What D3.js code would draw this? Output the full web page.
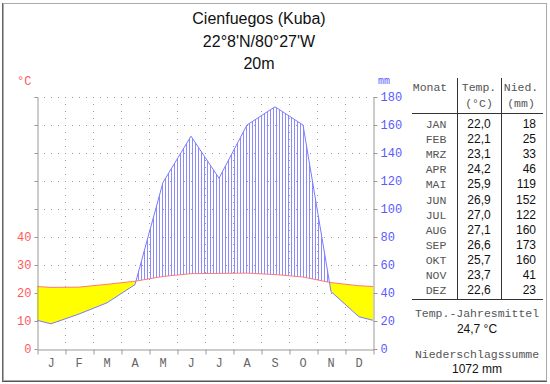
<!DOCTYPE html>
<html>
<head>
<meta charset="utf-8">
<script src="https://cdn.jsdelivr.net/npm/d3@7"></script>
<style>
  body { margin: 0; background: #fff; }
  svg { display: block; }
  .mono { font-family: "Liberation Mono", "Courier New", monospace; }
  .sans { font-family: "Liberation Sans", Arial, sans-serif; }
</style>
</head>
<body>
<svg id="chart" width="550" height="384"></svg>
<script>
// climate data, Cienfuegos
const months = ['J', 'F', 'M', 'A', 'M', 'J', 'J', 'A', 'S', 'O', 'N', 'D'];
const monthNames = ['JAN', 'FEB', 'MRZ', 'APR', 'MAI', 'JUN', 'JUL', 'AUG', 'SEP', 'OKT', 'NOV', 'DEZ'];
const temp = [22.0, 22.1, 23.1, 24.2, 25.9, 26.9, 27.0, 27.1, 26.6, 25.7, 23.7, 22.6];
const precip = [18, 25, 33, 46, 119, 152, 122, 160, 173, 160, 41, 23];
const tempTicks = [0, 10, 20, 30, 40, 50, 60, 70, 80, 90];
const tempLabels = [0, 10, 20, 30, 40];
const precipTicks = [0, 20, 40, 60, 80, 100, 120, 140, 160, 180];
const titleLines = ['Cienfuegos (Kuba)', "22°8'N/80°27'W", '20m'];

const svg = d3.select('#chart');
const red = '#ff5a5a', blue = '#5a5aff', grey = '#666';

const x = d3.scaleLinear().domain([0, 12]).range([37, 373]);
const yT = d3.scaleLinear().domain([0, 90]).range([349, 97]);
const yP = d3.scaleLinear().domain([0, 180]).range([349, 97]);

// points at month centres, closed at both edges with the Dec/Jan mean
function withEdges(vals) {
  const edge = (vals[0] + vals[11]) / 2;
  return [[0, edge]].concat(vals.map((v, i) => [i + 0.5, v]), [[12, edge]]);
}
const tPts = withEdges(temp);
const pPts = withEdges(precip);

// frame
svg.append('rect').attr('x', 3.5).attr('y', 3.5).attr('width', 543).attr('height', 377)
  .attr('fill', 'none').attr('stroke', '#aaa');
svg.append('line').attr('x1', 2.5).attr('x2', 2.5).attr('y1', 3).attr('y2', 382)
  .attr('stroke', '#666');
svg.append('line').attr('x1', 2).attr('x2', 547).attr('y1', 381.5).attr('y2', 381.5)
  .attr('stroke', '#555');

// title
svg.append('g').selectAll('text').data(titleLines).enter().append('text')
  .attr('class', 'sans').attr('x', 259).attr('y', (d, i) => 24 + i * 22.5)
  .attr('text-anchor', 'middle').attr('font-size', 16).attr('fill', '#111')
  .text(d => d);

// grid
const grid = svg.append('g').attr('stroke', '#999').attr('stroke-dasharray', '1,6');
grid.selectAll('.h').data(tempTicks.slice(1)).enter().append('line')
  .attr('x1', x(0)).attr('x2', x(12))
  .attr('y1', d => yT(d) + 0.5).attr('y2', d => yT(d) + 0.5);
grid.selectAll('.v').data(d3.range(1, 12)).enter().append('line')
  .attr('x1', d => x(d) + 0.5).attr('x2', d => x(d) + 0.5)
  .attr('y1', yT(90)).attr('y2', yT(0));

// clip paths for humid / arid zones
const defs = svg.append('defs');
const pat = defs.append('pattern').attr('id', 'hatch').attr('patternUnits', 'userSpaceOnUse')
  .attr('width', 3).attr('height', 10);
pat.append('rect').attr('x', 0).attr('width', 1).attr('height', 10).attr('fill', '#8c8cff');

const tArea = d3.area().x(d => x(d[0])).y1(d => yT(d[1]));
const pArea = d3.area().x(d => x(d[0])).y1(d => yP(d[1]));
defs.append('clipPath').attr('id', 'aboveT').append('path')
  .attr('d', tArea.y0(yT(90) - 5)(tPts));
defs.append('clipPath').attr('id', 'belowT').append('path')
  .attr('d', tArea.y0(yT(0))(tPts));
defs.append('clipPath').attr('id', 'aboveP').append('path')
  .attr('d', pArea.y0(yP(180) - 5)(pPts));
defs.append('clipPath').attr('id', 'belowP').append('path')
  .attr('d', pArea.y0(yP(0))(pPts));

svg.append('g').attr('clip-path', 'url(#aboveT)')
  .append('rect').attr('clip-path', 'url(#belowP)')
  .attr('x', x(0)).attr('y', yT(90)).attr('width', x(12) - x(0)).attr('height', yT(0) - yT(90))
  .attr('fill', 'url(#hatch)');
svg.append('g').attr('clip-path', 'url(#belowT)')
  .append('rect').attr('clip-path', 'url(#aboveP)')
  .attr('x', x(0)).attr('y', yT(90)).attr('width', x(12) - x(0)).attr('height', yT(0) - yT(90))
  .attr('fill', '#ffff00');

// curves
svg.append('path').datum(pPts).attr('fill', 'none').attr('stroke', '#7a7aff')
  .attr('d', d3.line().x(d => x(d[0])).y(d => yP(d[1])));
svg.append('path').datum(tPts).attr('fill', 'none').attr('stroke', '#ff7a7a')
  .attr('d', d3.line().x(d => x(d[0])).y(d => yT(d[1])));

// axes
function styleAxis(g, color) {
  g.select('.domain').attr('stroke', '#999');
  g.selectAll('.tick line').attr('stroke', '#999');
  g.selectAll('.tick text').attr('class', 'mono').attr('font-size', 12).attr('fill', color);
}
svg.append('g').attr('transform', 'translate(37.5,0)')
  .call(d3.axisLeft(yT).tickValues(tempTicks).tickSize(3).tickSizeOuter(0)
    .tickFormat(d => tempLabels.includes(d) ? d : ''))
  .call(g => styleAxis(g, red));
svg.append('g').attr('transform', 'translate(373.5,0)')
  .call(d3.axisRight(yP).tickValues(precipTicks).tickSize(4).tickSizeOuter(0))
  .call(g => styleAxis(g, blue));
svg.append('g').attr('transform', 'translate(0.5,349.5)')
  .call(d3.axisBottom(x).tickValues(d3.range(0, 13)).tickSize(5).tickSizeOuter(0).tickFormat(''))
  .call(g => styleAxis(g, grey));
svg.append('g').selectAll('text').data(months).enter().append('text')
  .attr('class', 'mono').attr('font-size', 12).attr('fill', grey).attr('text-anchor', 'middle')
  .attr('x', (d, i) => x(i + 0.5)).attr('y', 367).text(d => d);

// unit labels
svg.append('text').attr('class', 'mono').attr('x', 17).attr('y', 85)
  .attr('font-size', 12).attr('fill', red).text('°C');
svg.append('text').attr('class', 'mono').attr('x', 378).attr('y', 84)
  .attr('font-size', 10).attr('fill', blue).text('mm');

// table
const tbl = svg.append('g');
const colSep = [457.5, 501.5];
const rowY = d => 128 + d * 15.1;
tbl.selectAll('.sep').data(colSep).enter().append('line')
  .attr('x1', d => d).attr('x2', d => d).attr('y1', 78).attr('y2', 299)
  .attr('stroke', '#333');
tbl.selectAll('.hl').data([113.5, 299.5]).enter().append('line')
  .attr('x1', 412).attr('x2', 543).attr('y1', d => d).attr('y2', d => d)
  .attr('stroke', '#333');

const head = [
  { t: 'Monat', x: 430, y: 91 },
  { t: 'Temp.', x: 479, y: 91 },
  { t: '(°C)', x: 479, y: 107 },
  { t: 'Nied.', x: 521, y: 91 },
  { t: '(mm)', x: 521, y: 107 }
];
tbl.selectAll('.head').data(head).enter().append('text')
  .attr('class', 'mono').attr('font-size', 11.5).attr('fill', '#555').attr('text-anchor', 'middle')
  .attr('x', d => d.x).attr('y', d => d.y).text(d => d.t);

tbl.selectAll('.mon').data(monthNames).enter().append('text')
  .attr('class', 'mono').attr('font-size', 11.5).attr('fill', '#555').attr('text-anchor', 'middle')
  .attr('x', 436).attr('y', (d, i) => rowY(i)).text(d => d);
const fmt = d3.format('.1f');
tbl.selectAll('.tv').data(temp).enter().append('text')
  .attr('class', 'sans').attr('font-size', 12).attr('fill', '#111').attr('text-anchor', 'middle')
  .attr('x', 479).attr('y', (d, i) => rowY(i)).text(d => fmt(d).replace('.', ','));
tbl.selectAll('.pv').data(precip).enter().append('text')
  .attr('class', 'sans').attr('font-size', 12).attr('fill', '#111').attr('text-anchor', 'end')
  .attr('x', 536).attr('y', (d, i) => rowY(i)).text(d => d);

const meanT = d3.mean(temp);
const sumP = d3.sum(precip);
const foot = [
  { t: 'Temp.-Jahresmittel', y: 317, cls: 'mono', c: '#555', s: 11.5 },
  { t: fmt(meanT).replace('.', ',') + ' °C', y: 333, cls: 'sans', c: '#111', s: 12 },
  { t: 'Niederschlagssumme', y: 358, cls: 'mono', c: '#555', s: 11.5 },
  { t: sumP + ' mm', y: 373, cls: 'sans', c: '#111', s: 12 }
];
tbl.selectAll('.foot').data(foot).enter().append('text')
  .attr('class', d => d.cls).attr('font-size', d => d.s).attr('fill', d => d.c)
  .attr('text-anchor', 'middle').attr('x', 477).attr('y', d => d.y).text(d => d.t);
</script>
</body>
</html>
